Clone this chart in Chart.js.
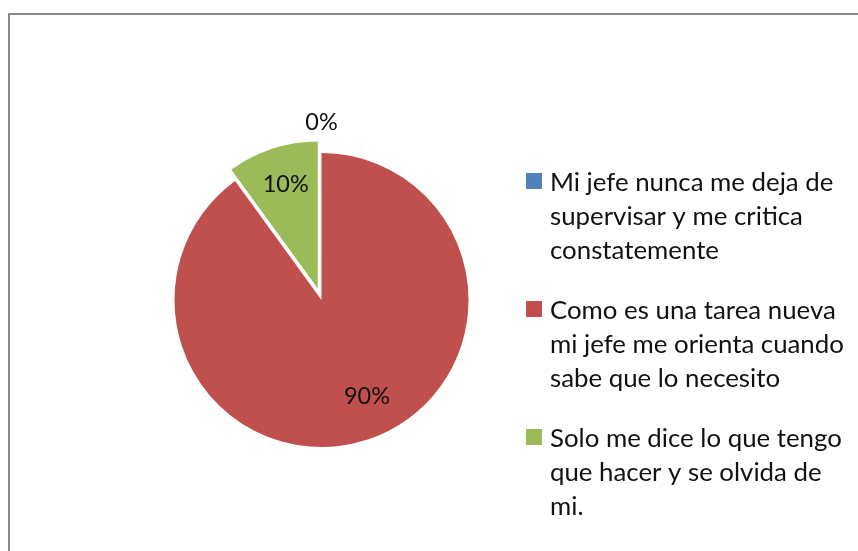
<!DOCTYPE html>
<html>
<head>
<meta charset="utf-8">
<script src="https://cdn.jsdelivr.net/npm/chart.js@4/dist/chart.umd.min.js"></script>
<style>
html,body{margin:0;padding:0;background:#fff;}
#wrap{position:relative;width:858px;height:551px;}
canvas{display:block;}
</style>
</head>
<body>
<div id="wrap"><canvas id="c" width="858" height="551"></canvas></div>
<script>
// ---- data ----
const categories = [
  ["Mi jefe nunca me deja de", "supervisar y me critica", "constatemente"],
  ["Como es una tarea nueva", "mi jefe me orienta cuando", "sabe que lo necesito"],
  ["Solo me dice lo que tengo", "que hacer y se olvida de", "mi."]
];
const values = [0, 90, 10];
const valueLabels = ["0%", "90%", "10%"];
const colors = ["#4F81BD", "#C0504D", "#9BBB59"];

// ---- style ----
const FONT = "Lato";
const TEXT_COLOR = "#111";
const explode = [0, 0, 12];
// [fraction along arc, radius factor, extra px outside]
const labelAnchor = [[0.5, 1, 32], [0.477, 0.72, 0], [0.53, 0.75, 0]];

function fitSize(ctx, text, target) {
  ctx.font = "100px " + FONT;
  return 100 * target / ctx.measureText(text).width;
}

const framePlugin = {
  id: "frame",
  beforeDraw(chart) {
    const ctx = chart.ctx;
    ctx.save();
    ctx.fillStyle = "#fff";
    ctx.fillRect(0, 0, chart.width, chart.height);
    ctx.strokeStyle = "#8a8a8a";
    ctx.lineWidth = 2;
    ctx.strokeRect(9, 14, 900, 600);
    ctx.restore();
  }
};

const explodePlugin = {
  id: "explode",
  afterDatasetsUpdate(chart) {
    const meta = chart.getDatasetMeta(0);
    meta.data.forEach((arc, i) => {
      const d = explode[i] || 0;
      if (!d) return;
      const mid = (arc.startAngle + arc.endAngle) / 2;
      arc.x += Math.cos(mid) * d;
      arc.y += Math.sin(mid) * d;
    });
  }
};

const labelPlugin = {
  id: "labels",
  afterDraw(chart) {
    const ctx = chart.ctx;
    ctx.save();
    const size = fitSize(ctx, "90%", 46);
    ctx.font = size + "px " + FONT;
    const cap = ctx.measureText("0").actualBoundingBoxAscent;
    ctx.fillStyle = TEXT_COLOR;
    ctx.textAlign = "center";
    ctx.textBaseline = "alphabetic";
    const meta = chart.getDatasetMeta(0);
    meta.data.forEach((arc, i) => {
      const a = labelAnchor[i];
      const ang = arc.startAngle + (arc.endAngle - arc.startAngle) * a[0];
      const r = arc.outerRadius * a[1] + a[2];
      const x = arc.x + Math.cos(ang) * r;
      const y = arc.y + Math.sin(ang) * r;
      ctx.fillText(valueLabels[i], x, y + cap / 2);
    });

    // legend
    const lsize = fitSize(ctx, "mi jefe me orienta cuando", 294);
    ctx.font = lsize + "px " + FONT;
    ctx.textAlign = "left";
    categories.forEach((lines, i) => {
      const base = 191 + i * 128;
      ctx.fillStyle = colors[i];
      ctx.fillRect(526, base - 18, 16, 16);
      ctx.fillStyle = TEXT_COLOR;
      lines.forEach((ln, j) => ctx.fillText(ln, 550, base + j * 34));
    });
    ctx.restore();
  }
};

new Chart(document.getElementById("c"), {
  type: "pie",
  data: {
    labels: categories,
    datasets: [{
      data: values,
      backgroundColor: colors,
      borderWidth: 0
    }]
  },
  options: {
    responsive: false,
    animation: false,
    devicePixelRatio: 1,
    radius: 147,
    layout: { padding: { left: 150, right: 365, top: 130, bottom: 81 } },
    plugins: {
      legend: { display: false },
      tooltip: { enabled: false },
      title: { display: false }
    }
  },
  plugins: [framePlugin, explodePlugin, labelPlugin]
});
</script>
</body>
</html>
